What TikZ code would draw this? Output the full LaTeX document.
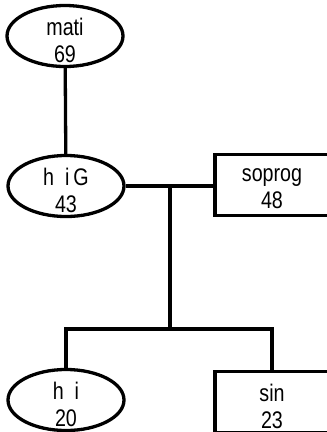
\documentclass[tikz,border=0pt]{standalone}
\usepackage{fontspec}
\setmainfont[FakeStretch=0.82]{Liberation Sans}
\usetikzlibrary{shapes.geometric}
\begin{document}
\begin{tikzpicture}[x=1pt,y=-1pt,line width=3.3pt,
  every node/.style={inner sep=0pt,align=center,font=\fontsize{24}{27}\selectfont},
  oval/.style={draw,ellipse,minimum width=116pt,minimum height=61pt},
  tbox/.style={draw,rectangle,minimum width=114pt,minimum height=61pt},
  txt/.style={yshift=-4pt}]
\useasboundingbox (0,0) rectangle (327,432);
\node [oval,label={[txt]center:{mati\\69}}] (mati) at (65,36) {};
\node [oval,label={[txt]center:{h\ \ i\,G\\43}}] (hig) at (66,186) {};
\node [tbox,label={[txt]center:{soprog\\48}}] (soprog) at (272,185) {};
\node [oval,label={[txt]center:{h\ \ i\\20}}] (hi) at (66,400) {};
\node [tbox,label={[txt]center:{sin\\23}}] (sin) at (272,402) {};
\coordinate (fork) at (170,186);
\coordinate (split) at (170,329);
\draw (mati) -- (hig);
\draw (hig) -- (soprog.west |- fork);
\draw (fork) -- (split);
\draw (hi) |- (split) -| (sin);
\end{tikzpicture}
\end{document}
